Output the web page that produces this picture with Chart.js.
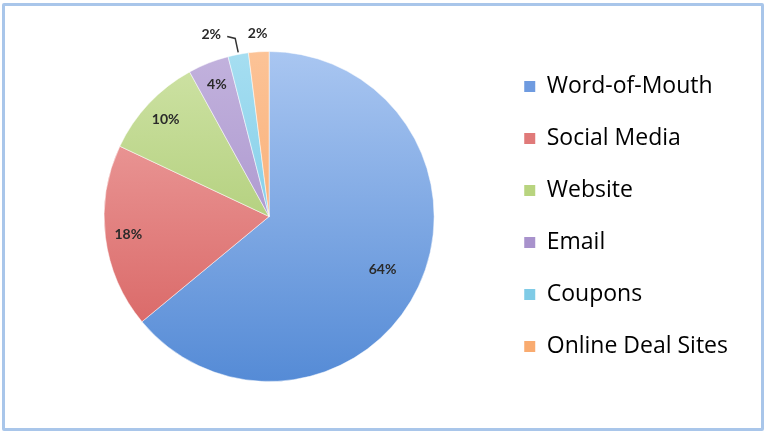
<!DOCTYPE html>
<html>
<head>
<meta charset="utf-8">
<script src="https://cdn.jsdelivr.net/npm/chart.js@4"></script>
<style>
    body { margin: 0; background: #fff; }
    #wrap { position: relative; width: 768px; height: 435px; }
    #frame {
        position: absolute; left: 2px; top: 3px; width: 756px; height: 422px;
        border: 3px solid #a9c6ea; border-radius: 2px; pointer-events: none;
    }
</style>
</head>
<body>
<div id="wrap">
    <canvas id="pieChart" width="768" height="435"></canvas>
    <div id="frame"></div>
</div>
<script>
const labels = ['Word-of-Mouth', 'Social Media', 'Website', 'Email', 'Coupons', 'Online Deal Sites'];
const shares = [64, 18, 10, 4, 2, 2];

// gradient stops, top then bottom of the pie
const topColors = ['#a9c6f1', '#f0a9a8', '#cfe3a6', '#c2b2dd', '#a6def1', '#fcc397'];
const bottomColors = ['#558bd6', '#d65d5c', '#9cc05c', '#9d84c4', '#67c2e2', '#f7a05e'];
const flatColors = ['#6f9be0', '#e07a79', '#b8d47f', '#a892cc', '#7fcbe6', '#f9ab70'];

function sliceFill(ctx) {
    const chart = ctx.chart;
    const area = chart.chartArea;
    const i = ctx.dataIndex;
    if (!area) return flatColors[i];
    const cy = (area.top + area.bottom) / 2;
    const g = chart.ctx.createLinearGradient(0, cy - 165, 0, cy + 165);
    g.addColorStop(0, topColors[i]);
    g.addColorStop(1, bottomColors[i]);
    return g;
}

// percentage labels
const pctLabels = {
    id: 'pctLabels',
    afterDatasetsDraw(chart) {
        const ctx = chart.ctx;
        const arcs = chart.getDatasetMeta(0).data;
        ctx.save();
        ctx.font = 'bold 14px Lato';
        ctx.fillStyle = '#2a2a2a';
        ctx.textAlign = 'center';
        ctx.textBaseline = 'middle';
        arcs.forEach((arc, i) => {
            const p = arc.getProps(['x', 'y', 'startAngle', 'endAngle', 'outerRadius'], true);
            const mid = (p.startAngle + p.endAngle) / 2;
            const R = p.outerRadius;
            const txt = shares[i] + '%';
            if (i === 4) {
                // leader line out to the left
                const sx = p.x + Math.cos(mid) * R;
                const sy = p.y + Math.sin(mid) * R;
                ctx.strokeStyle = '#333';
                ctx.lineWidth = 1.5;
                ctx.beginPath();
                ctx.moveTo(sx, sy - 2);
                ctx.lineTo(sx - 3, sy - 16);
                ctx.lineTo(sx - 11, sy - 18);
                ctx.stroke();
                ctx.fillText(txt, sx - 27, sy - 20);
                return;
            }
            let r = R * 0.86;
            if (i === 0) r = R * 0.76;
            if (i === 5) r = R + 18;
            ctx.fillText(txt, p.x + Math.cos(mid) * r, p.y + Math.sin(mid) * r);
        });
        ctx.restore();
    }
};

new Chart(document.getElementById('pieChart'), {
    type: 'pie',
    data: {
        labels: labels,
        datasets: [{
            data: shares,
            backgroundColor: sliceFill,
            borderColor: 'rgba(255,255,255,0.5)',
            borderWidth: 1
        }]
    },
    options: {
        responsive: false,
        animation: false,
        radius: 165,
        layout: { padding: { left: 43, right: 30, top: 0, bottom: 2 } },
        plugins: {
            legend: {
                position: 'right',
                labels: {
                    color: '#111',
                    font: { family: 'Open Sans', size: 23 },
                    boxWidth: 11,
                    boxHeight: 11,
                    padding: 29,
                    generateLabels(chart) {
                        return labels.map((l, i) => ({
                            text: l,
                            fillStyle: flatColors[i],
                            strokeStyle: flatColors[i],
                            lineWidth: 0,
                            index: i
                        }));
                    }
                }
            },
            tooltip: { enabled: false }
        }
    },
    plugins: [pctLabels]
});
</script>
</body>
</html>
